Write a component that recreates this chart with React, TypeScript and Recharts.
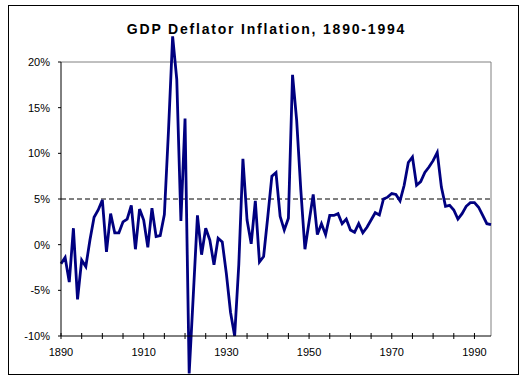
import { LineChart, Line, XAxis, YAxis, ReferenceLine } from 'recharts';

const FONT = '"Liberation Sans", Arial, sans-serif';
const LINE_COLOR = '#000080';
const FRAME_COLOR = '#808080';

const TITLE = 'GDP Deflator Inflation, 1890-1994';
const FIRST_YEAR = 1890;
const LAST_YEAR = 1994;

// annual GDP deflator inflation, %, 1890..1994
const INFLATION = [
  -2.1, -1.4, -4.1, 1.8, -6.0, -1.7, -2.4, 0.5, 3.0, 3.8,
  4.9, -0.8, 3.4, 1.3, 1.3, 2.5, 2.8, 4.3, -0.5, 3.9,
  2.7, -0.3, 4.0, 0.9, 1.0, 3.3, 12.5, 22.8, 18.1, 2.6,
  13.8, -14.1, -5.5, 3.2, -1.1, 1.8, 0.5, -2.2, 0.7, 0.3,
  -3.2, -7.4, -10.0, -2.2, 9.4, 2.7, 0.1, 4.8, -1.9, -1.3,
  3.0, 7.5, 7.9, 3.1, 1.6, 2.9, 18.6, 13.6, 6.0, -0.5,
  2.5, 5.5, 1.1, 2.3, 1.1, 3.2, 3.2, 3.4, 2.3, 2.8,
  1.6, 1.35, 2.3, 1.3, 1.9, 2.7, 3.5, 3.25, 5.0, 5.2,
  5.6, 5.5, 4.8, 6.5, 9.0, 9.6, 6.5, 6.9, 7.9, 8.5,
  9.2, 10.1, 6.3, 4.2, 4.3, 3.8, 2.8, 3.4, 4.2, 4.6,
  4.6, 4.1, 3.2, 2.3, 2.2,
];

const X_TICKS = [
  1890, 1895, 1900, 1905, 1910, 1915, 1920, 1925, 1930, 1935, 1940,
  1945, 1950, 1955, 1960, 1965, 1970, 1975, 1980, 1985, 1990,
];
const X_LABEL_STEP = 20;
const Y_TICKS = [-10, -5, 0, 5, 10, 15, 20];
const TARGET_LINE = 5;

const rows = INFLATION.map((v, i) => ({ year: FIRST_YEAR + i, value: v }));

const X_TICK_SIZE = 4;
const X_TICK_MARGIN = 2;

// Excel-style tick: cross mark on every 5 years, label every 20
function YearTick(props: any) {
  const { x, y, payload } = props;
  const axisY = y - X_TICK_SIZE - X_TICK_MARGIN;
  const showLabel = (payload.value - FIRST_YEAR) % X_LABEL_STEP === 0;
  return (
    <g>
      <line x1={x} x2={x} y1={axisY - 3} y2={axisY + 3} stroke="#000" strokeWidth={1} />
      {showLabel && (
        <text x={x} y={axisY + 20} textAnchor="middle" fontSize={11} fontFamily={FONT} fill="#000">
          {payload.value}
        </text>
      )}
    </g>
  );
}

export default function App() {
  return (
    <div style={{ position: 'absolute', left: 0, top: 0, width: 527, height: 382, background: '#fff' }}>
      {/* let the 1921 dip run past the axis like the original */}
      <style>{'.recharts-line-curve{clip-path:none !important}'}</style>
      <div
        style={{
          position: 'absolute',
          left: 8,
          top: 5,
          width: 509,
          height: 368,
          border: '1px solid #000',
        }}
      />
      <div
        style={{
          position: 'absolute',
          left: 3,
          top: 22,
          width: 527,
          textAlign: 'center',
          fontFamily: FONT,
          fontWeight: 'bold',
          fontSize: 14,
          lineHeight: '14px',
          letterSpacing: 1.8,
          color: '#000',
        }}
      >
        {TITLE}
      </div>
      <div style={{ position: 'absolute', left: 0, top: 0 }}>
        <LineChart width={527} height={382} data={rows} margin={{ top: 62, right: 36, bottom: 0, left: 0 }}>
          <XAxis
            type="number"
            dataKey="year"
            domain={[FIRST_YEAR, LAST_YEAR]}
            ticks={X_TICKS}
            interval={0}
            height={46}
            tickSize={X_TICK_SIZE}
            tickMargin={X_TICK_MARGIN}
            tickLine={false}
            tick={<YearTick />}
            stroke="#000"
          />
          <YAxis
            type="number"
            domain={[-10, 20]}
            allowDataOverflow
            ticks={Y_TICKS}
            interval={0}
            width={61}
            tickSize={3}
            tickMargin={8}
            tickFormatter={(v: number) => `${v}%`}
            tick={{ fontSize: 11, fontFamily: FONT, fill: '#000' }}
            stroke="#000"
          />
          <ReferenceLine y={20} stroke={FRAME_COLOR} strokeWidth={1} />
          <ReferenceLine x={LAST_YEAR} stroke={FRAME_COLOR} strokeWidth={1} />
          <ReferenceLine y={TARGET_LINE} stroke="#000" strokeDasharray="5 3" strokeWidth={1} />
          <Line
            type="linear"
            dataKey="value"
            stroke={LINE_COLOR}
            strokeWidth={2.8}
            dot={false}
            isAnimationActive={false}
          />
        </LineChart>
      </div>
    </div>
  );
}
